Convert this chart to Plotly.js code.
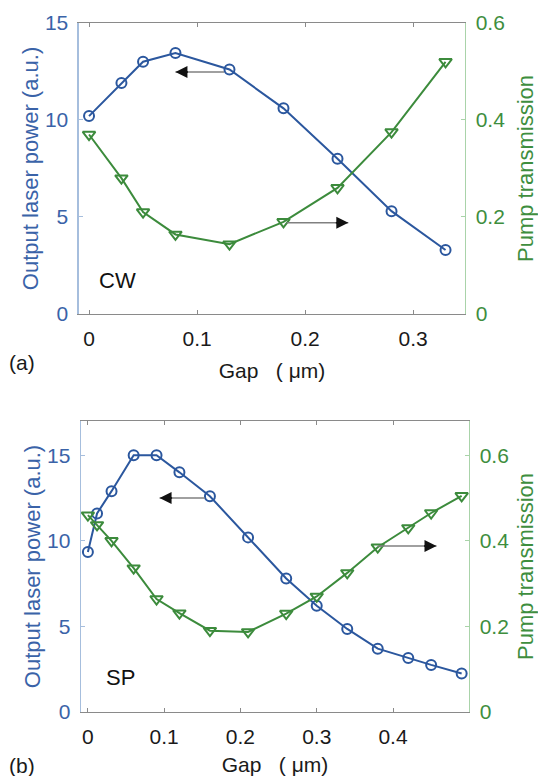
<!DOCTYPE html>
<html>
<head>
<meta charset="utf-8">
<script src="https://cdn.plot.ly/plotly-3.0.1.min.js"></script>
<style>html,body{margin:0;padding:0;background:#fff;}#chart{width:538px;height:776px;}</style>
</head>
<body>
<div id="chart"></div>
<script>
// ---- data ----
const gapCW   = [0, 0.03, 0.05, 0.08, 0.13, 0.18, 0.23, 0.28, 0.33];
const powerCW = [10.2, 11.9, 13.0, 13.45, 12.6, 10.6, 8.0, 5.3, 3.3];
const pumpCW  = [0.37, 0.28, 0.21, 0.164, 0.144, 0.19, 0.26, 0.375, 0.52];

const gapSP   = [0, 0.012, 0.031, 0.06, 0.09, 0.12, 0.16, 0.21, 0.26, 0.30, 0.34, 0.38, 0.42, 0.45, 0.49];
const powerSP = [9.35, 11.6, 12.9, 15.0, 15.0, 14.0, 12.6, 10.2, 7.8, 6.2, 4.85, 3.7, 3.15, 2.75, 2.25];
const pumpSP  = [0.46, 0.437, 0.40, 0.336, 0.264, 0.231, 0.19, 0.187, 0.23, 0.27, 0.325, 0.385, 0.43, 0.465, 0.505];

const xTicksCW = [0, 0.1, 0.2, 0.3];
const xTicksSP = [0, 0.1, 0.2, 0.3, 0.4];
const yTicksPower = [0, 5, 10, 15];
const yTicksPump  = [0, 0.2, 0.4, 0.6];

// ---- styles ----
const BLUE = '#2B579E', GREEN = '#3C8B3C';
const BLUE_TXT = '#3A63A8', GREEN_TXT = '#3E8E3E';
const FONT = 'Liberation Sans, Arial, sans-serif';
const NB = '\u00A0';
const xTitle = 'Gap' + NB + NB + NB + '(' + NB + 'μm)';

function powerTrace(x, y, xa, ya) {
  return {x, y, xaxis: xa, yaxis: ya, type: 'scatter', mode: 'lines+markers',
    line: {color: BLUE, width: 2},
    marker: {symbol: 'circle-open', size: 10, color: BLUE, line: {width: 2, color: BLUE}},
    showlegend: false, cliponaxis: false};
}
function pumpTrace(x, y, xa, ya) {
  return {x, y, xaxis: xa, yaxis: ya, type: 'scatter', mode: 'lines+markers',
    line: {color: GREEN, width: 2},
    marker: {symbol: 'triangle-down-open', size: 11, color: GREEN, line: {width: 2, color: GREEN}},
    showlegend: false, cliponaxis: false};
}

const data = [
  powerTrace(gapCW, powerCW, 'x', 'y'),
  pumpTrace(gapCW, pumpCW, 'x', 'y2'),
  powerTrace(gapSP, powerSP, 'x2', 'y3'),
  pumpTrace(gapSP, pumpSP, 'x2', 'y4')
];

function xAxis(domain, range, tickvals, anchor) {
  return {domain, range, tickvals, ticktext: tickvals.map(String), anchor,
    showline: true, linecolor: '#8a8a8a', linewidth: 1, mirror: 'ticks',
    ticks: 'inside', ticklen: 4, tickcolor: '#8a8a8a', showgrid: false, zeroline: false,
    tickfont: {family: FONT, size: 21, color: '#1a1a1a'}, ticklabelstandoff: 6,
    title: {text: xTitle, font: {family: FONT, size: 21, color: '#1a1a1a'}, standoff: 14},
    automargin: false, fixedrange: true};
}
function yLeft(domain, range, anchor) {
  return {domain, range, tickvals: yTicksPower, anchor, side: 'left',
    showline: true, linecolor: '#A6BEDD', linewidth: 1.5,
    ticks: 'inside', ticklen: 4, tickcolor: '#A6BEDD', showgrid: false, zeroline: false,
    tickfont: {family: FONT, size: 21, color: BLUE_TXT}, ticklabelstandoff: 5,
    title: {text: 'Output laser power (a.u.)', font: {family: FONT, size: 22, color: BLUE_TXT}, standoff: 0},
    automargin: false, fixedrange: true};
}
function yRight(domain, range, anchor, overlay) {
  return {range, tickvals: yTicksPump, ticktext: ['0', '0.2', '0.4', '0.6'], anchor, overlaying: overlay, side: 'right',
    showline: true, linecolor: '#A9D3A9', linewidth: 1.5,
    ticks: 'inside', ticklen: 4, tickcolor: '#A9D3A9', showgrid: false, zeroline: false,
    tickfont: {family: FONT, size: 21, color: GREEN_TXT}, ticklabelstandoff: 5,
    title: {text: 'Pump transmission', font: {family: FONT, size: 22, color: GREEN_TXT}, standoff: 16},
    automargin: false, fixedrange: true};
}

const topY = [0.5954, 0.9704], botY = [0.0825, 0.4575];

function arrowPair(xref, yref, xTail, xHead, y, dir) {
  return {
    shape: {type: 'line', xref, yref, x0: xTail, x1: xHead, y0: y, y1: y,
      line: {color: '#808080', width: 1.5}},
    ann: {xref, yref, x: xHead, y: y, ax: -dir * 14, ay: 0, text: '', showarrow: true,
      arrowhead: 2, arrowsize: 1.6, arrowwidth: 1.5, arrowcolor: '#111'}
  };
}
const arrows = [
  arrowPair('x', 'y', 0.125, 0.08, 12.47, -1),
  arrowPair('x', 'y2', 0.183, 0.24, 0.188, 1),
  arrowPair('x2', 'y3', 0.153, 0.094, 12.5, -1),
  arrowPair('x2', 'y4', 0.38, 0.457, 0.388, 1)
];

const layout = {
  width: 538, height: 776,
  margin: {l: 0, r: 0, t: 0, b: 0},
  paper_bgcolor: '#fff', plot_bgcolor: '#fff',
  font: {family: FONT},
  xaxis:  xAxis([0.1468, 0.8643], [-0.0093, 0.348], xTicksCW, 'y'),
  yaxis:  yLeft(topY, [0, 15], 'x'),
  yaxis2: yRight(topY, [0, 0.6], 'x', 'y'),
  xaxis2: xAxis([0.1506, 0.8717], [-0.009, 0.4996], xTicksSP, 'y3'),
  yaxis3: yLeft(botY, [0, 17], 'x2'),
  yaxis4: yRight(botY, [0, 0.68], 'x2', 'y3'),
  shapes: arrows.map(a => a.shape),
  annotations: arrows.map(a => a.ann).concat([
    {xref: 'x', yref: 'y', x: 0.026, y: 1.7, text: 'CW', showarrow: false,
      font: {family: FONT, size: 22, color: '#111'}},
    {xref: 'x2', yref: 'y3', x: 0.043, y: 2.0, text: 'SP', showarrow: false,
      font: {family: FONT, size: 22, color: '#111'}},
    {xref: 'paper', yref: 'paper', x: 22 / 538, y: 1 - 362 / 776, text: '(a)', showarrow: false,
      xanchor: 'center', yanchor: 'middle', font: {family: FONT, size: 21, color: '#1a1a1a'}},
    {xref: 'paper', yref: 'paper', x: 22 / 538, y: 1 - 765 / 776, text: '(b)', showarrow: false,
      xanchor: 'center', yanchor: 'middle', font: {family: FONT, size: 21, color: '#1a1a1a'}}
  ])
};

Plotly.newPlot('chart', data, layout, {staticPlot: true, displayModeBar: false});
</script>
</body>
</html>
